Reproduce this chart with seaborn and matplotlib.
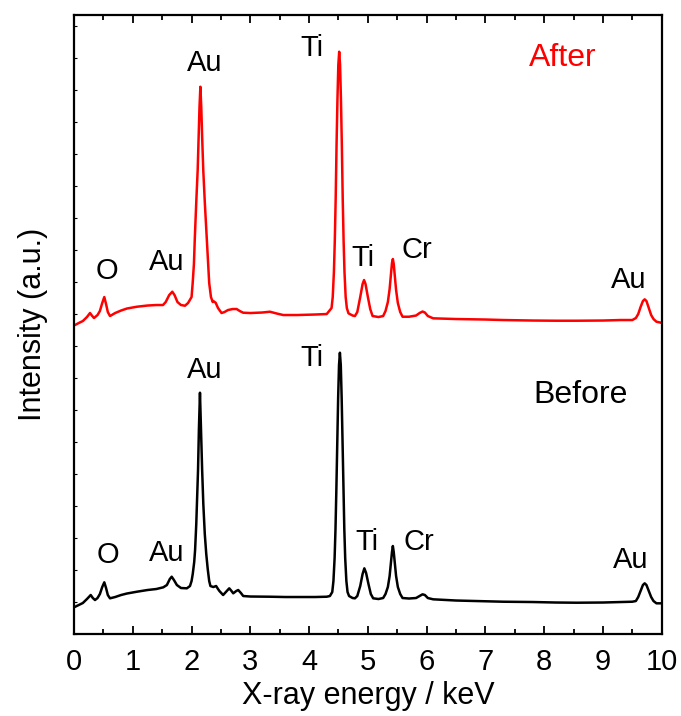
import numpy as np
import pandas as pd
import matplotlib
matplotlib.use("Agg")
import matplotlib.pyplot as plt
from matplotlib.ticker import MultipleLocator
import seaborn as sns

# EDS spectra (energy in keV, intensity in arbitrary units)
energy_before = [0.01, 0.08, 0.15, 0.22, 0.284, 0.32, 0.357, 0.40, 0.44, 0.48, 0.515, 0.545, 0.575, 0.612,
                 0.70, 0.80, 0.90, 1.07, 1.25, 1.40, 1.519, 1.58, 1.63, 1.662, 1.70, 1.75, 1.82, 1.92, 1.973,
                 2.0, 2.02, 2.045, 2.06, 2.08, 2.097, 2.11, 2.125, 2.143, 2.16, 2.18, 2.20, 2.225, 2.25,
                 2.275, 2.30, 2.321, 2.37, 2.418, 2.45, 2.474, 2.537, 2.60, 2.641, 2.68, 2.709, 2.76, 2.794,
                 2.84, 2.879, 3.0, 3.333, 3.6, 3.844, 4.1, 4.30, 4.354,
                 4.394, 4.414, 4.434, 4.449, 4.464, 4.479, 4.494, 4.509, 4.524, 4.539, 4.554, 4.569, 4.584,
                 4.599, 4.614, 4.634, 4.654, 4.68, 4.74, 4.78, 4.82, 4.87, 4.91, 4.94, 4.97, 5.01, 5.05,
                 5.09, 5.18, 5.26, 5.30, 5.34, 5.37, 5.39, 5.41, 5.425, 5.44, 5.46, 5.48, 5.51, 5.55, 5.59,
                 5.70, 5.82, 5.88, 5.93, 5.97, 6.02, 6.111, 6.5, 7.0, 7.3, 7.8, 8.2, 8.55, 9.0, 9.3, 9.5,
                 9.56, 9.60, 9.64, 9.68, 9.71, 9.74, 9.78, 9.82, 9.86, 9.91, 9.99]
intensity_before = [27, 29, 31, 35, 39, 36, 34, 36, 40, 47, 51.7, 46, 39, 35.7,
                    37, 39, 40.5, 42.3, 44, 45, 46.7, 49, 55, 57.3, 54, 49, 46, 45.7, 48,
                    53, 60, 72, 84, 110, 140, 164, 205, 241.3, 205, 164, 130, 100, 80,
                    65, 53, 48, 47, 48, 45, 43, 39, 43, 45.7, 43, 40.7, 43, 44,
                    41, 38, 37.5, 37.3, 37, 37, 37, 37.3, 38,
                    42, 53, 76, 105, 145, 191, 236, 269, 281.3, 269, 236, 191, 145,
                    105, 76, 53, 42, 38, 36, 35.7, 38, 48, 60, 65.7, 61, 50, 40,
                    35.7, 35, 36, 40, 47, 58, 70, 82, 88, 82, 70, 58, 47, 40, 36,
                    35.5, 36, 38, 39.7, 39, 36, 34.7, 33.5, 32.8, 32.3, 32, 31.5, 31.3, 31.5, 32, 32.3,
                    33, 37, 43, 49, 50.7, 49, 43, 37, 33, 30.7, 30.7]

energy_after = [0.017, 0.08, 0.15, 0.22, 0.272, 0.31, 0.34, 0.40, 0.44, 0.48, 0.515, 0.545, 0.575, 0.612,
                0.70, 0.80, 0.90, 1.07, 1.25, 1.40, 1.514, 1.56, 1.62, 1.672, 1.71, 1.76, 1.82, 1.888, 1.94,
                1.97, 2.0, 2.019, 2.04, 2.056, 2.08, 2.104, 2.12, 2.135, 2.15, 2.165, 2.18, 2.199, 2.225,
                2.257, 2.28, 2.30, 2.33, 2.36, 2.37, 2.41, 2.45, 2.51, 2.56, 2.62, 2.70, 2.767, 2.82, 2.879,
                3.0, 3.2, 3.333, 3.45, 3.56, 3.8, 4.1, 4.3,
                4.382, 4.402, 4.422, 4.437, 4.452, 4.467, 4.482, 4.497, 4.512, 4.527, 4.542, 4.557, 4.572,
                4.587, 4.602, 4.622, 4.642, 4.67, 4.74, 4.78, 4.82, 4.87, 4.91, 4.935, 4.96, 5.0, 5.04,
                5.08, 5.18, 5.26, 5.30, 5.34, 5.37, 5.39, 5.41, 5.425, 5.44, 5.46, 5.48, 5.51, 5.55, 5.59,
                5.70, 5.82, 5.88, 5.93, 5.97, 6.02, 6.111, 6.5, 7.0, 7.3, 7.8, 8.2, 8.55, 9.0, 9.3, 9.5,
                9.56, 9.60, 9.64, 9.68, 9.71, 9.74, 9.78, 9.82, 9.86, 9.91, 9.99]
intensity_after = [27, 29, 31, 35, 39, 36, 34, 37, 41, 49, 55, 48, 40, 36,
                   39, 41.5, 43.5, 45.3, 46.5, 47, 47, 50, 57, 60.3, 57, 50, 47, 46.3, 49,
                   52, 55, 69, 88, 115, 150, 182, 215, 245, 265.3, 245, 215, 182, 150,
                   115, 88, 69, 55, 50, 51, 49.3, 44, 39, 40, 42, 43, 43, 41, 39.3,
                   39, 39.5, 40.3, 38.5, 37, 37, 37.5, 38,
                   44, 55, 80, 111, 153, 207, 252, 287, 300.3, 287, 252, 207, 153,
                   111, 80, 55, 44, 38.7, 36.5, 36, 40, 55, 68, 72, 68, 55, 43,
                   36, 35, 36, 41, 50, 63, 76, 89, 93, 88, 75, 62, 49, 40, 35.3,
                   35.3, 36.5, 39, 40.5, 39.5, 36, 33.7, 33, 32.5, 32, 31.5, 31.3, 31.3, 31.5, 32, 32,
                   34, 38, 45, 51, 52.7, 51, 44, 37, 33, 30.3, 29.3]

after_offset = 282

before_labels = ["O", "Au", "Au", "Ti", "Ti", "Cr", "Au"]
before_label_x = [0.57, 1.58, 2.23, 4.04, 4.98, 5.87, 9.48]
before_label_y = [79, 81, 264, 276, 92, 92, 74]

after_labels = ["O", "Au", "Au", "Ti", "Ti", "Cr", "Au"]
after_label_x = [0.56, 1.58, 2.22, 4.04, 4.92, 5.83, 9.44]
after_label_y = [363, 372, 571, 586, 376, 384, 354]

sns.set_style("ticks")
plt.rcParams['font.family'] = ['Liberation Sans', 'DejaVu Sans']
plt.rcParams.update({'text.color': 'black', 'axes.labelcolor': 'black',
                     'xtick.color': 'black', 'ytick.color': 'black'})

df_before = pd.DataFrame({'Energy': energy_before, 'Intensity': intensity_before})
df_after = pd.DataFrame({'Energy': energy_after,
                         'Intensity': np.array(intensity_after) + after_offset})

fig = plt.figure(figsize=(6.81, 7.16), dpi=100)
ax = fig.add_axes([0.1087, 0.1145, 0.8630, 0.8645])

sns.lineplot(data=df_before, x='Energy', y='Intensity', color='black', lw=1.8, ax=ax, estimator=None)
sns.lineplot(data=df_after, x='Energy', y='Intensity', color='red', lw=1.8, ax=ax, estimator=None)

for lab, x, y in zip(before_labels, before_label_x, before_label_y):
    ax.text(x, y, lab, ha='center', va='center', fontsize=21)
for lab, x, y in zip(after_labels, after_label_x, after_label_y):
    ax.text(x, y, lab, ha='center', va='center', fontsize=21)
ax.text(8.62, 239, 'Before', ha='center', va='center', fontsize=23)
ax.text(8.32, 576, 'After', ha='center', va='center', fontsize=23, color='red')

ax.set_xlim(0, 10)
ax.set_ylim(0, 619)
ax.xaxis.set_major_locator(MultipleLocator(1))
ax.xaxis.set_minor_locator(MultipleLocator(0.5))
ax.yaxis.set_major_locator(MultipleLocator(32))
ax.set_yticklabels([])
ax.tick_params(axis='x', which='major', direction='in', length=6, width=1.3, top=True, labelsize=21, pad=10)
ax.tick_params(axis='x', which='minor', direction='in', length=3.5, width=1.3, top=True)
ax.tick_params(axis='y', which='major', direction='in', length=2, width=0.8, left=True, right=False)
for s in ax.spines.values():
    s.set_linewidth(1.6)
    s.set_color('black')
ax.set_xlabel('X-ray energy / keV', fontsize=22, labelpad=4)
ax.set_ylabel('Intensity (a.u.)', fontsize=22, labelpad=15)

fig.savefig('out.png', dpi=100)
